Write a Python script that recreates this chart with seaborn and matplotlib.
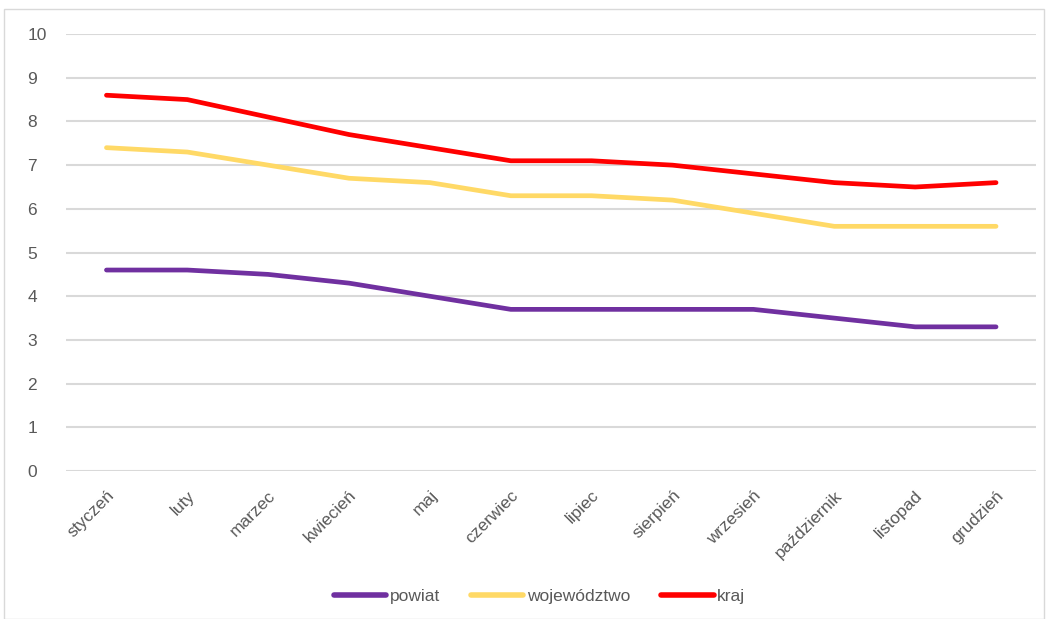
import matplotlib
matplotlib.use("Agg")
import matplotlib.pyplot as plt
import seaborn as sns
import pandas as pd
from matplotlib.patches import Rectangle

# dane z wykresu
miesiace = ["styczeń", "luty", "marzec", "kwiecień", "maj", "czerwiec",
            "lipiec", "sierpień", "wrzesień", "październik", "listopad", "grudzień"]
powiat = [4.6, 4.6, 4.5, 4.3, 4.0, 3.7, 3.7, 3.7, 3.7, 3.5, 3.3, 3.3]
wojewodztwo = [7.4, 7.3, 7.0, 6.7, 6.6, 6.3, 6.3, 6.2, 5.9, 5.6, 5.6, 5.6]
kraj = [8.6, 8.5, 8.1, 7.7, 7.4, 7.1, 7.1, 7.0, 6.8, 6.6, 6.5, 6.6]

serie = ["powiat", "województwo", "kraj"]
kolory = ["#7030A0", "#FFD966", "#FF0000"]

df = pd.DataFrame({"miesiac": miesiace * 3,
                   "wartosc": powiat + wojewodztwo + kraj,
                   "seria": [s for s in serie for _ in miesiace]})
df["x"] = list(range(len(miesiace))) * 3

sns.set_style("white")
plt.rcParams['font.family'] = ['Liberation Sans', 'DejaVu Sans']

fig = plt.figure(figsize=(10.48, 6.19), dpi=100)
ax = fig.add_axes([0.063, 0.239, 0.926, 0.706])

sns.lineplot(data=df, x="x", y="wartosc", hue="seria", hue_order=serie,
             palette=kolory, linewidth=3.4, ax=ax, legend=True)
for line in ax.lines:
    line.set_solid_capstyle("round")

ax.set_xlim(-0.5, len(miesiace) - 0.5)
ax.set_ylim(0, 10)
ax.set_yticks(range(0, 11))
ax.set_xticks(range(len(miesiace)))
ax.set_xticklabels(miesiace, rotation=45, ha="right", rotation_mode="anchor")
ax.tick_params(axis="both", colors="#595959", labelsize=12.5, length=0)
ax.tick_params(axis="x", pad=12)
ax.tick_params(axis="y", pad=28)
for t in ax.get_yticklabels():
    t.set_horizontalalignment("left")
ax.grid(axis="y", color="#d9d9d9", linewidth=1.5)
ax.set_axisbelow(True)
for s in ax.spines.values():
    s.set_visible(False)
ax.set_xlabel("")
ax.set_ylabel("")

handles, labels = ax.get_legend_handles_labels()
ax.legend_.remove()
for h in handles:
    h.set_linewidth(4)
fig.legend(handles, labels, loc="center", bbox_to_anchor=(0.515, 0.036), ncol=3,
           frameon=False, fontsize=12.5, handlelength=3.0, handletextpad=0.2,
           columnspacing=1.8, labelcolor="#595959")

fig.add_artist(Rectangle((4 / 1048, 0), 1040 / 1048, 1 - 9 / 619,
                         transform=fig.transFigure, fill=False,
                         edgecolor="#d9d9d9", linewidth=1))

fig.savefig("out.png", dpi=100)
